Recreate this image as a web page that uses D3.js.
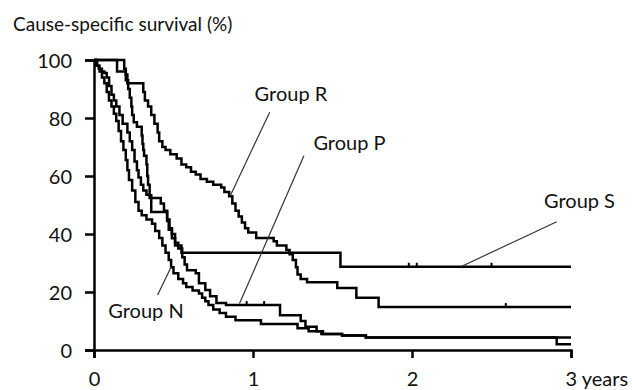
<!DOCTYPE html>
<html>
<head>
<meta charset="utf-8">
<script src="https://cdn.jsdelivr.net/npm/d3@7"></script>
<style>
  body { margin: 0; background: #fff; }
  svg text { font-family: Lato, "Open Sans", sans-serif; fill: #111; }
</style>
</head>
<body>
<svg id="chart" width="632" height="390"></svg>
<script>
// survival steps: [years, survival %] -- value holds until the next point
var groupN = [[0,100],[0.02,98],[0.035,96],[0.05,94],[0.065,92],[0.08,89],[0.094,86],[0.11,84],[0.125,81.5],[0.14,79],[0.155,75.5],[0.17,72],[0.185,69],[0.2,65.5],[0.21,62],[0.22,58.6],[0.24,55],[0.26,51],[0.28,48],[0.3,46.5],[0.33,45],[0.365,43.5],[0.385,41],[0.41,38.6],[0.43,36],[0.45,33.5],[0.47,31],[0.485,28.5],[0.5,26.5],[0.53,24.5],[0.56,23],[0.58,21.7],[0.62,20.5],[0.66,19.5],[0.68,18],[0.7,16.8],[0.72,15.5],[0.75,14],[0.79,12.8],[0.83,11.5],[0.89,10.3],[1.05,9],[1.28,7.5],[1.35,6.5],[1.43,5.5],[1.56,5],[1.71,4.3],[2.91,2],[3,2]];
var groupP = [[0,100],[0.015,98],[0.03,97],[0.05,96],[0.065,95.5],[0.08,94],[0.095,91],[0.11,88],[0.125,86],[0.14,84],[0.16,81],[0.18,78],[0.21,75],[0.225,72],[0.24,69],[0.255,65],[0.27,62],[0.28,59.5],[0.295,57],[0.31,55],[0.33,53.5],[0.35,52.4],[0.42,50.5],[0.44,48],[0.46,45],[0.475,42],[0.49,40],[0.51,37],[0.53,35],[0.555,32],[0.57,29.5],[0.585,27.5],[0.64,26.5],[0.66,23],[0.7,20.7],[0.73,18.5],[0.77,16.2],[0.83,15.5],[1.17,12],[1.3,10],[1.33,8],[1.4,6.5],[1.44,5.5],[1.56,5],[1.71,4.3],[3,4.3]];
var groupS = [[0,100],[0.145,96],[0.2,93],[0.215,90],[0.225,87],[0.235,84],[0.24,81],[0.25,78.5],[0.27,77],[0.3,74],[0.305,71],[0.31,69],[0.315,67],[0.33,64],[0.335,60],[0.34,57],[0.35,53.4],[0.36,47.6],[0.46,44.5],[0.47,41.5],[0.49,38.5],[0.51,36],[0.55,33.5],[1.55,28.7],[3,28.7]];
var groupR = [[0,100],[0.19,97],[0.2,95],[0.21,92],[0.31,89],[0.32,86],[0.34,84],[0.36,81],[0.38,78],[0.4,75],[0.41,72],[0.43,70],[0.45,69],[0.48,67.5],[0.52,66],[0.55,64],[0.58,63],[0.61,61.5],[0.64,60.5],[0.67,59],[0.71,58],[0.75,57],[0.8,56],[0.82,54.5],[0.85,53],[0.87,50.5],[0.89,48],[0.91,46],[0.93,44],[0.95,42],[0.97,40.5],[1.02,38.6],[1.13,37.5],[1.15,36],[1.21,34.5],[1.23,33],[1.25,31],[1.27,28.5],[1.28,26],[1.3,24.5],[1.34,23.4],[1.53,21.4],[1.65,18],[1.79,14.8],[3,14.8]];

// censored observations (years)
var censorS = [1.98, 2.03, 2.5];
var censorR = [2.59];
var censorP = [0.96, 1.07];

var yTicks = [0, 20, 40, 60, 80, 100];
var xTicks = [0, 1, 2, 3];
var xTickLabels = ["0", "1", "2", "3 years"];
var yTitle = "Cause-specific survival (%)";

// labels: name, label anchor [t, s], pointer from [t, s] to [t, s]
var labels = [
  { name: "Group R", at: [1.01, 86], from: [1.105, 82], to: [0.857, 53.2] },
  { name: "Group P", at: [1.38, 69], from: [1.32, 67], to: [0.915, 16] },
  { name: "Group N", at: [0.09, 11], from: [0.4, 19], to: [0.485, 28.6] },
  { name: "Group S", at: [2.83, 49], from: [2.91, 44.2], to: [2.31, 28.8] }
];

var svg = d3.select("#chart");
var x = d3.scaleLinear().domain([0, 3]).range([94, 571]);
var y = d3.scaleLinear().domain([0, 100]).range([350, 60]);

var line = d3.line()
  .x(function(d){ return x(d[0]); })
  .y(function(d){ return y(d[1]); })
  .curve(d3.curveStepAfter);

// axes
var yAxis = svg.append("g")
  .attr("transform", "translate(" + x(0) + ",0)")
  .call(d3.axisLeft(y).tickValues(yTicks).tickSize(9).tickPadding(13).tickFormat(d3.format("d")));
var xAxis = svg.append("g")
  .attr("transform", "translate(0," + y(0) + ")")
  .call(d3.axisBottom(x).tickValues(xTicks).tickSize(8).tickPadding(14)
    .tickFormat(function(d, i){ return xTickLabels[i]; }));

[yAxis, xAxis].forEach(function(a){
  a.select(".domain").attr("stroke", "#000").attr("stroke-width", 2.5);
  a.selectAll(".tick line").attr("stroke", "#000").attr("stroke-width", 2.5);
  a.selectAll("text").attr("font-size", 20).attr("fill", "#111")
    .style("font-family", "Lato, 'Open Sans', sans-serif");
});
yAxis.selectAll("text").attr("dy", "0.35em");
// "3 years" starts under its tick
xAxis.selectAll(".tick").filter(function(d){ return d === 3; }).select("text")
  .attr("text-anchor", "start").attr("dx", -6);

svg.append("text")
  .attr("x", 13).attr("y", 31)
  .attr("font-size", 19)
  .text(yTitle);

// curves
var groups = [groupN, groupP, groupS, groupR];
svg.append("g").selectAll("path")
  .data(groups)
  .enter().append("path")
  .attr("d", line)
  .attr("fill", "none")
  .attr("stroke", "#000")
  .attr("stroke-width", 2.5)
  .attr("stroke-linejoin", "miter");

// censor ticks
function lastValue(data, t){
  var v = data[0][1];
  for (var i = 0; i < data.length; i++) { if (data[i][0] <= t) v = data[i][1]; }
  return v;
}
var censors = [[censorS, groupS], [censorR, groupR], [censorP, groupP]];
censors.forEach(function(c){
  svg.append("g").selectAll("line")
    .data(c[0])
    .enter().append("line")
    .attr("x1", function(d){ return x(d); })
    .attr("x2", function(d){ return x(d); })
    .attr("y1", function(d){ return y(lastValue(c[1], d)); })
    .attr("y2", function(d){ return y(lastValue(c[1], d)) - 4; })
    .attr("stroke", "#000")
    .attr("stroke-width", 2);
});

// pointer lines and group labels
var ann = svg.append("g");
ann.selectAll("line")
  .data(labels)
  .enter().append("line")
  .attr("x1", function(d){ return x(d.from[0]); })
  .attr("y1", function(d){ return y(d.from[1]); })
  .attr("x2", function(d){ return x(d.to[0]); })
  .attr("y2", function(d){ return y(d.to[1]); })
  .attr("stroke", "#333")
  .attr("stroke-width", 1.2);
ann.selectAll("text")
  .data(labels)
  .enter().append("text")
  .attr("x", function(d){ return x(d.at[0]); })
  .attr("y", function(d){ return y(d.at[1]); })
  .attr("font-size", 20)
  .text(function(d){ return d.name; });
</script>
</body>
</html>
